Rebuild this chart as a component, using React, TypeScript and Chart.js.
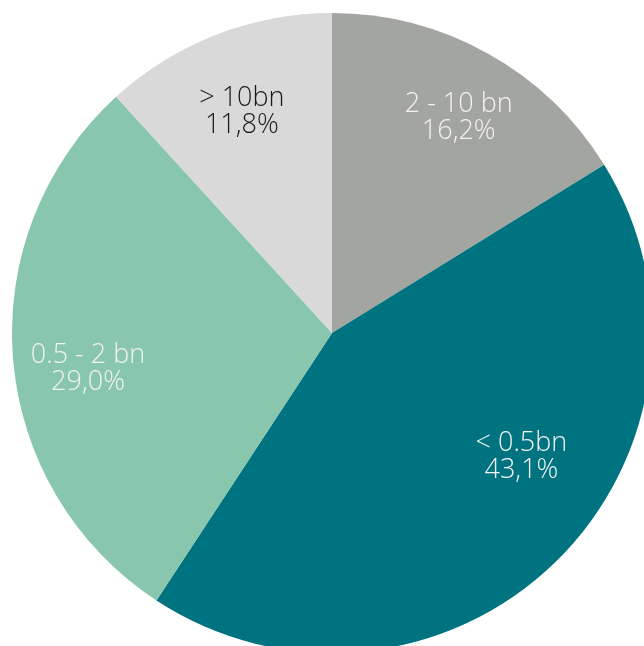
import React, { useEffect, useRef } from "react";
import { Chart, registerables } from "chart.js";

Chart.register(...registerables);

const categories = ["2 - 10 bn", "< 0.5bn", "0.5 - 2 bn", "> 10bn"];
const shares = [16.2, 43.1, 29.0, 11.8];
const shareLabels = ["16,2%", "43,1%", "29,0%", "11,8%"];
const colors = ["#a3a5a1", "#007380", "#88c6ad", "#d9d9d9"];
const textColors = ["#f2f2f2", "#f2f2f2", "#f2f2f2", "#1a1a1a"];
// label placement inside each slice: fraction along the slice's angle, fraction of radius
const labelAngleFrac = [0.52, 0.417, 0.467, 0.48];
const labelRadiusFrac = [0.785, 0.705, 0.77, 0.75];

const labelPlugin = {
  id: "sliceLabels",
  afterDatasetsDraw(chart: any) {
    const ctx = chart.ctx;
    const meta = chart.getDatasetMeta(0);
    ctx.save();
    ctx.font = "300 27px 'Open Sans', sans-serif";
    ctx.textAlign = "center";
    ctx.textBaseline = "middle";
    meta.data.forEach((arc: any, i: number) => {
      const p = arc.getProps(["startAngle", "endAngle", "outerRadius", "x", "y"], true);
      const a = p.startAngle + (p.endAngle - p.startAngle) * labelAngleFrac[i];
      const r = p.outerRadius * labelRadiusFrac[i];
      const cx = p.x + Math.cos(a) * r;
      const cy = p.y + Math.sin(a) * r;
      ctx.fillStyle = textColors[i];
      ctx.fillText(categories[i], cx, cy - 12);
      ctx.fillText(shareLabels[i], cx, cy + 15);
    });
    ctx.restore();
  },
};

export default function App() {
  const ref = useRef<HTMLCanvasElement>(null);
  useEffect(() => {
    if (!ref.current) return;
    const chart = new Chart(ref.current, {
      type: "pie",
      data: {
        labels: categories,
        datasets: [
          {
            data: shares,
            backgroundColor: colors,
            borderWidth: 0,
          },
        ],
      },
      options: {
        animation: false,
        responsive: false,
        maintainAspectRatio: false,
        layout: { padding: 0 },
        plugins: { legend: { display: false }, tooltip: { enabled: false } },
      },
      plugins: [labelPlugin],
    });
    return () => chart.destroy();
  }, []);
  return (
    <div
      style={{
        position: "fixed",
        left: 0,
        top: 0,
        width: 644,
        height: 646,
        overflow: "hidden",
        background: "#ffffff",
      }}
    >
      <canvas
        ref={ref}
        width={640}
        height={640}
        style={{ position: "absolute", left: 12, top: 13, width: 640, height: 640 }}
      />
    </div>
  );
}
